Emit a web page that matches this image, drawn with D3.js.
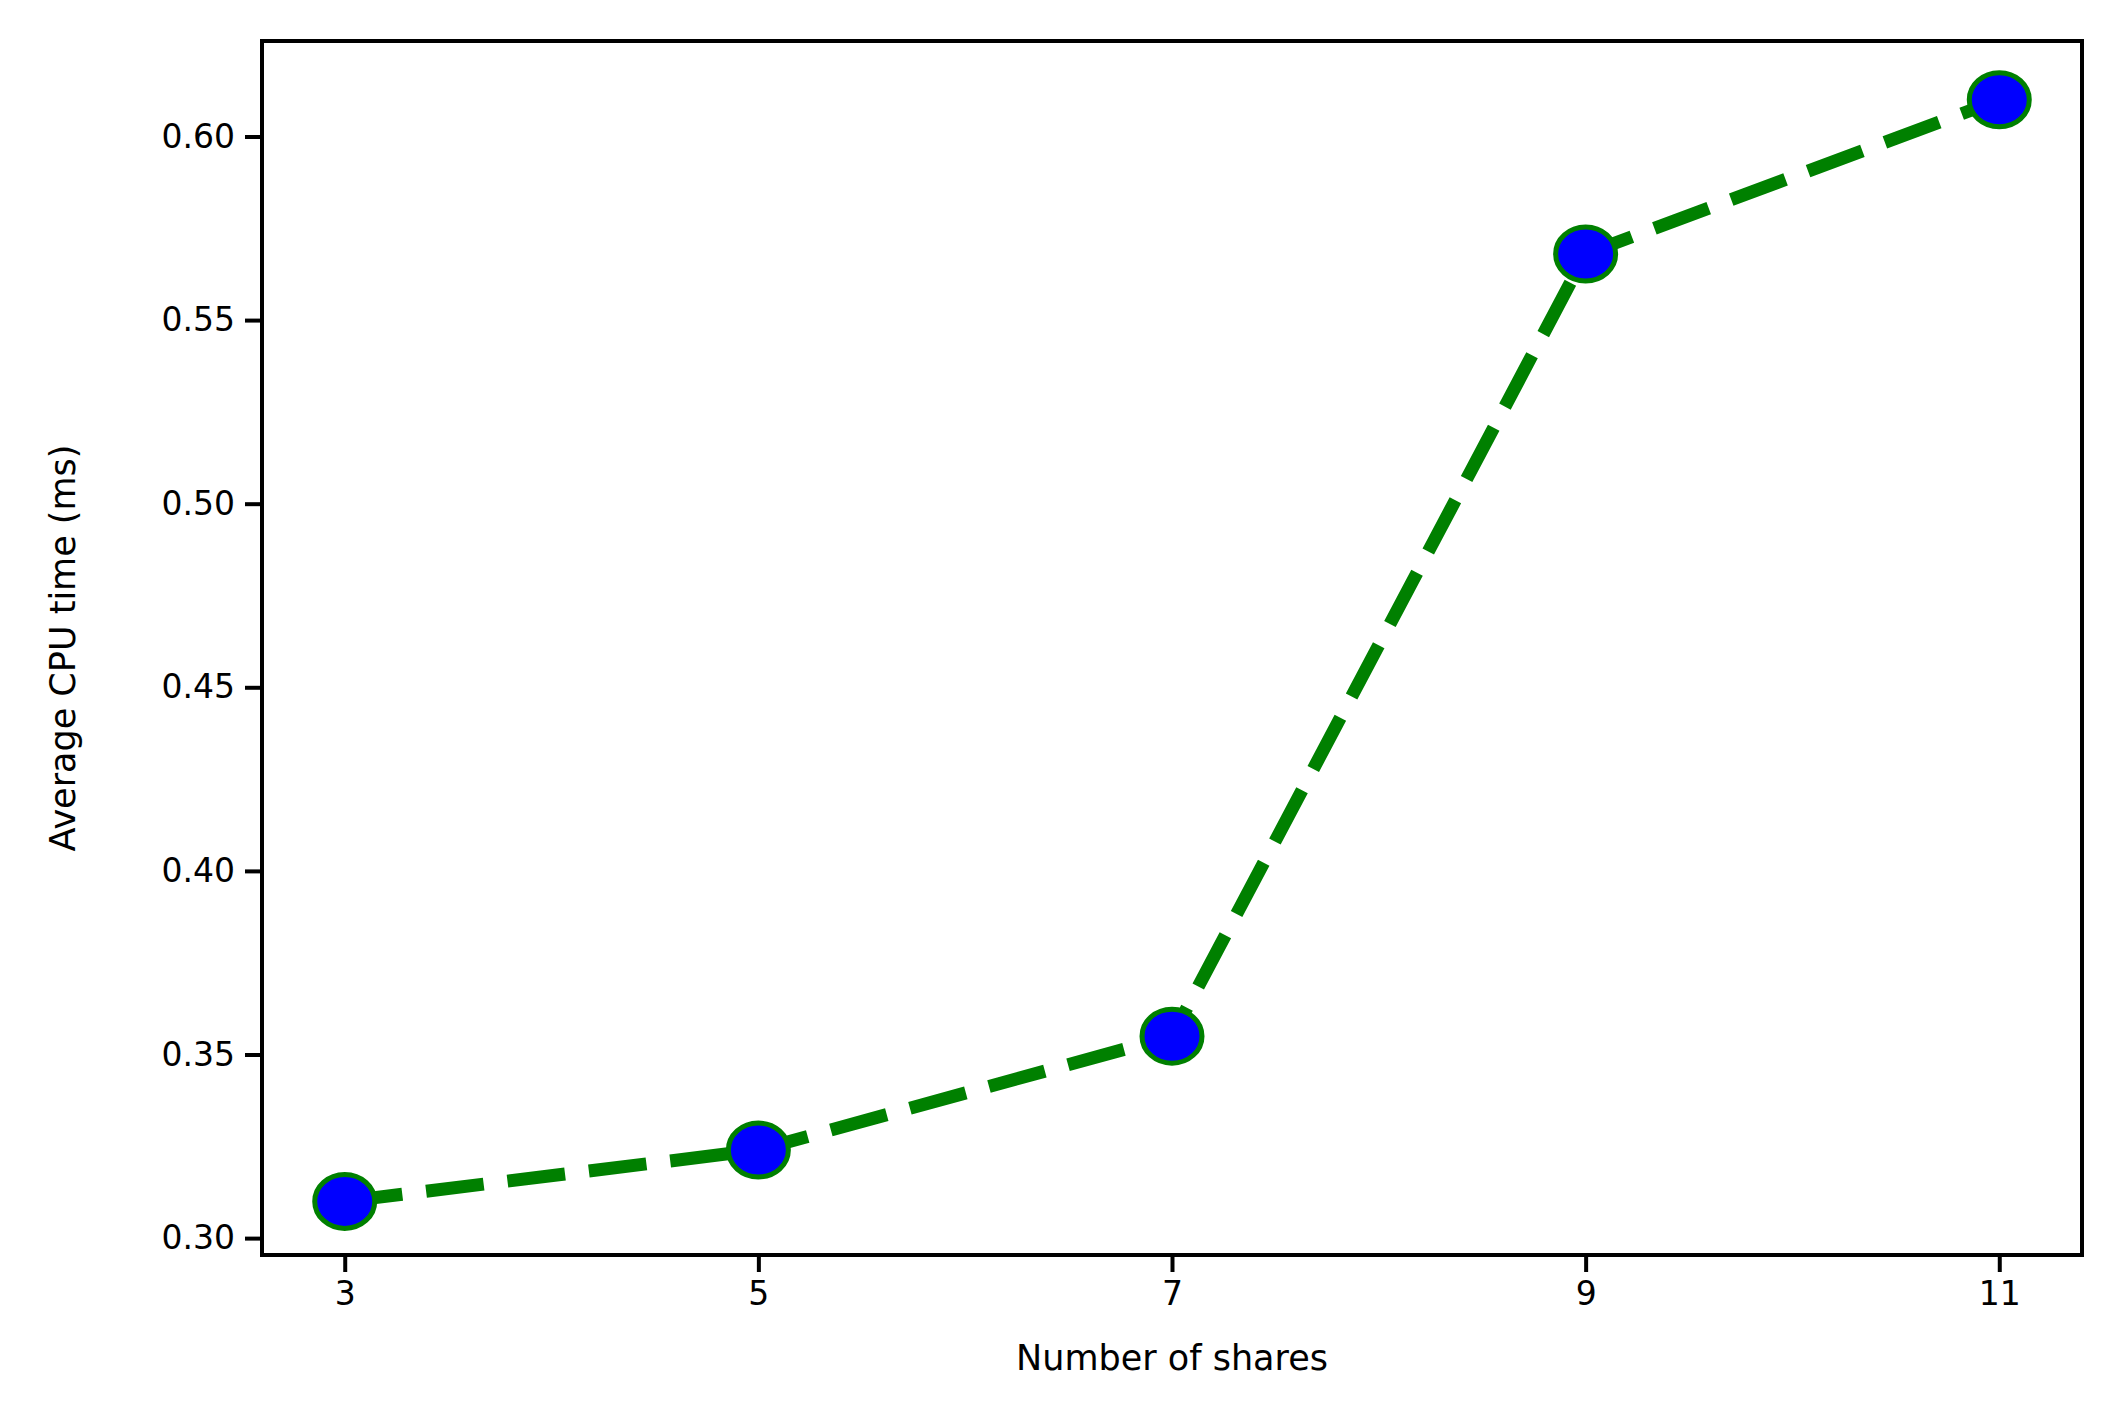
<!DOCTYPE html>
<html><head><meta charset="utf-8">
<script src="https://cdn.jsdelivr.net/npm/d3@7"></script>
<style>body{margin:0;background:#fff}text{font-family:"DejaVu Sans",sans-serif}</style>
</head><body>
<svg id="c" width="2124" height="1405"></svg>
<script>
var shares = [3, 5, 7, 9, 11]
var cpuTime = [0.310, 0.324, 0.355, 0.568, 0.610]
var yTicks = [0.30, 0.35, 0.40, 0.45, 0.50, 0.55, 0.60]

var svg = d3.select("#c")
var L = 262, R = 2082, T = 41, B = 1255

var x = d3.scaleLinear().domain([2.6, 11.4]).range([L, R])
var y = d3.scaleLinear().domain([0.2954, 0.626]).range([B, T])

// axes
svg.append("g").attr("transform", "translate(0," + B + ")")
  .call(d3.axisBottom(x).tickValues(shares).tickSize(17).tickPadding(10).tickFormat(d3.format("d")))
svg.append("g").attr("transform", "translate(" + L + ",0)")
  .call(d3.axisLeft(y).tickValues(yTicks).tickSize(17).tickPadding(10).tickFormat(d3.format(".2f")))
svg.selectAll(".domain").remove()
svg.selectAll(".tick line").attr("stroke", "#000").attr("stroke-width", 4)
svg.selectAll(".tick text").attr("font-size", 33).attr("fill", "#000")

svg.append("rect").attr("x", L).attr("y", T).attr("width", R - L).attr("height", B - T)
  .attr("fill", "none").attr("stroke", "#000").attr("stroke-width", 4)

// line
var pts = shares.map(function(s, i) { return [s, cpuTime[i]] })
svg.append("path").datum(pts)
  .attr("d", d3.line().x(function(d) { return x(d[0]) }).y(function(d) { return y(d[1]) }))
  .attr("fill", "none").attr("stroke", "green").attr("stroke-width", 13)
  .attr("stroke-dasharray", "58,24")

svg.selectAll("ellipse").data(pts).enter().append("ellipse")
  .attr("cx", function(d) { return x(d[0]) })
  .attr("cy", function(d) { return y(d[1]) })
  .attr("rx", 30).attr("ry", 27)
  .attr("fill", "blue").attr("stroke", "green").attr("stroke-width", 5)

// labels
svg.append("text").attr("x", (L + R) / 2).attr("y", 1370).attr("text-anchor", "middle")
  .attr("font-size", 35).text("Number of shares")
svg.append("text").attr("transform", "translate(75," + ((T + B) / 2) + ") rotate(-90)")
  .attr("text-anchor", "middle").attr("font-size", 35).text("Average CPU time (ms)")
</script>
</body></html>
